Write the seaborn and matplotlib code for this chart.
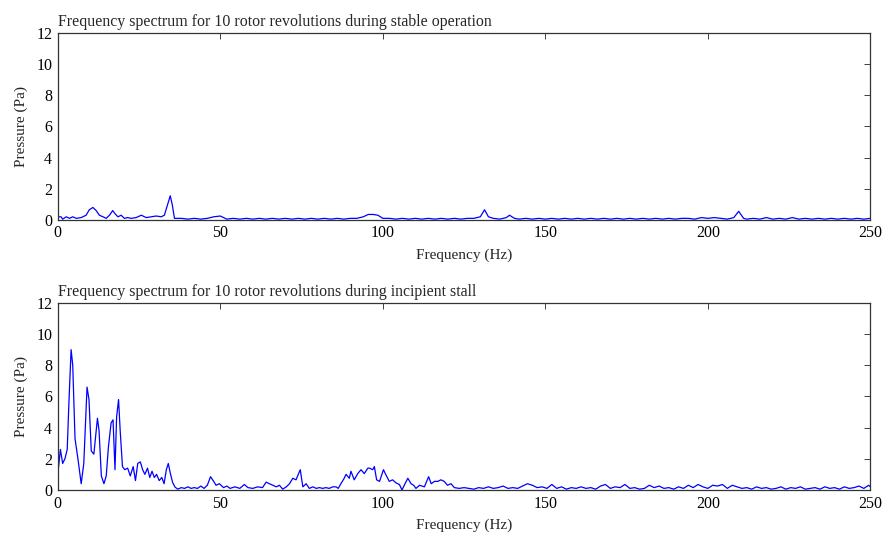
import numpy as np
import pandas as pd
import seaborn as sb
import matplotlib.pyplot as plt

# stable operation spectrum (Hz, Pa)
stable_freq = [0, 1, 1.5, 2.6, 3.6, 4.6, 5.7, 7.2, 8.7, 9.7, 10.8, 11.8, 12.8, 13.9, 14.9,
               15.9, 16.9, 17.6, 18.5, 19.5, 20.5, 21.5, 22.6, 24.1, 25.7, 27.2, 28.7, 30.3,
               31.8, 32.8, 33.8, 34.6, 35.2, 35.9, 37.4,
               38, 40, 42, 44, 46, 48, 50, 52, 54, 56, 58, 60, 62, 64, 66, 68, 70, 72, 74,
               76, 78, 80, 82, 84, 86, 88, 90, 92, 94, 95.5, 97, 98.5, 100, 102, 104, 106,
               108, 110, 112, 114, 116, 118, 120, 122, 124, 126, 128, 130, 131.3, 132.5,
               134, 136, 138, 139, 140.5, 142, 144, 146, 148, 150, 152, 154, 156, 158, 160,
               162, 164, 166, 168, 170, 172, 174, 176, 178, 180, 182, 184, 186, 188, 190,
               192, 194, 196, 198, 200, 202, 204, 206, 208, 209.5, 211, 212, 214, 216, 218,
               220, 222, 224, 226, 228, 230, 232, 234, 236, 238, 240, 242, 244, 246, 248, 250]
stable_p = [0.2, 0.2, 0.05, 0.2, 0.1, 0.2, 0.1, 0.15, 0.3, 0.65, 0.8, 0.6, 0.3, 0.2, 0.1,
            0.3, 0.6, 0.4, 0.2, 0.3, 0.1, 0.15, 0.1, 0.15, 0.3, 0.15, 0.2, 0.25,
            0.2, 0.3, 1.0, 1.55, 1.0, 0.1, 0.1,
            0.1, 0.05, 0.1, 0.05, 0.1, 0.2, 0.25, 0.05, 0.1, 0.05, 0.1, 0.05, 0.1, 0.05, 0.1, 0.05, 0.1, 0.05, 0.1,
            0.05, 0.1, 0.05, 0.1, 0.05, 0.1, 0.05, 0.1, 0.1, 0.2, 0.35, 0.35, 0.3, 0.1, 0.1, 0.05, 0.1,
            0.05, 0.1, 0.05, 0.1, 0.05, 0.1, 0.05, 0.1, 0.05, 0.1, 0.1, 0.2, 0.65, 0.2,
            0.1, 0.05, 0.15, 0.3, 0.1, 0.05, 0.1, 0.05, 0.1, 0.05, 0.1, 0.05, 0.1, 0.05, 0.1,
            0.05, 0.1, 0.05, 0.1, 0.05, 0.1, 0.05, 0.1, 0.05, 0.1, 0.05, 0.1, 0.05, 0.1, 0.05,
            0.1, 0.1, 0.05, 0.15, 0.1, 0.15, 0.1, 0.05, 0.15, 0.55, 0.1, 0.05, 0.1, 0.05, 0.15,
            0.05, 0.1, 0.05, 0.15, 0.05, 0.1, 0.05, 0.1, 0.05, 0.1, 0.05, 0.1, 0.05, 0.1, 0.05, 0.1]

# incipient stall spectrum (Hz, Pa)
stall_freq = [0, 0.8, 1.5, 2.2, 2.9, 3.5, 4.1, 4.6, 5.3, 6.2, 7.2, 8.0, 9.0, 9.6, 10.3, 11.1,
              12.2, 12.7, 13.4, 14.2, 14.9, 15.6, 16.4, 17.0, 17.6, 18.1, 18.7, 19.2, 19.9,
              20.6, 21.5, 22.3, 23.2, 23.9, 24.6, 25.4, 26.1, 26.8, 27.6, 28.3, 29.0, 29.7,
              30.4, 31.2, 32.0, 32.7, 33.4, 34.0, 34.6, 35.3, 36.0, 36.9, 38, 39, 40, 41, 42,
              43, 44, 45, 46, 47, 47.8, 48.7, 49.7, 51, 52, 53, 54.5, 56, 57.4, 58.5, 60, 61.5,
              63, 64.1, 65.1, 66.2, 67.2, 68.2, 69.2, 70.3, 71.3, 72.3, 73.3, 74.6, 75.4, 76.4,
              77.4, 78.5, 79.5, 80.5, 81.5, 82.5, 83.5, 84.6, 85.6, 86.3, 87.1, 88, 88.7, 89.7,
              90.2, 91.2, 92.3, 93.3, 94.3, 95.4, 95.9, 96.9, 97.4, 98.1, 99.0, 100.2, 101, 102,
              103, 104.1, 105.1, 105.9, 106.6, 107.7, 108.7, 109.5, 110.2, 111.3, 112.8, 114.1,
              114.9, 115.9, 116.9, 117.9, 118.9, 119.9, 121, 122,
              123.5, 125, 126.5, 128, 129.5, 131, 132.5, 134, 135.5, 137, 138.5, 140, 141.5,
              143, 144.5, 146, 147.5, 149, 150.5, 152, 153.5, 155, 156.5, 158, 159.5, 161,
              162.5, 164, 165.5, 167, 168.5, 170, 171.5, 173, 174.5, 176, 177.5, 179, 180.5,
              182, 183.5, 185, 186.5, 188, 189.5, 191, 192.5, 194, 195.5, 197, 198.5, 200,
              201.5, 203, 204.5, 206, 207.5, 209, 210.5, 212, 213.5, 215, 216.5, 218, 219.5,
              221, 222.5, 224, 225.5, 227, 228.5, 230, 231.5, 233, 234.5, 236, 237.5, 239,
              240.5, 242, 243.5, 245, 246.5, 248, 249.5, 250]
stall_p = [1.0, 2.6, 1.7, 2.0, 2.6, 6.0, 9.0, 8.0, 3.3, 2.0, 0.4, 1.7, 6.6, 5.8, 2.5, 2.3,
           4.6, 3.8, 0.9, 0.4, 0.9, 2.8, 4.3, 4.5, 1.3, 4.7, 5.8, 3.8, 1.5,
           1.3, 1.4, 0.9, 1.5, 0.6, 1.7, 1.8, 1.3, 1.0, 1.4, 0.8, 1.2, 0.8,
           1.0, 0.6, 0.8, 0.4, 1.3, 1.7, 1.1, 0.5, 0.2, 0.05, 0.15, 0.1, 0.2, 0.1, 0.15,
           0.1, 0.25, 0.1, 0.3, 0.85, 0.6, 0.3, 0.4, 0.15, 0.25, 0.1, 0.2, 0.1, 0.35, 0.15, 0.1, 0.2,
           0.15, 0.5, 0.4, 0.3, 0.2, 0.3, 0.05, 0.2, 0.4, 0.75, 0.65, 1.3, 0.2, 0.4,
           0.1, 0.2, 0.1, 0.15, 0.1, 0.15, 0.1, 0.2, 0.2, 0.1, 0.4, 0.7, 1.0, 0.75,
           1.2, 0.65, 1.05, 1.3, 1.05, 1.4, 1.4, 1.3, 1.5, 0.65, 0.55, 1.3, 0.95, 0.55,
           0.65, 0.45, 0.35, 0.0, 0.3, 0.75, 0.4, 0.3, 0.1, 0.3, 0.2, 0.85,
           0.4, 0.55, 0.55, 0.65, 0.55, 0.3, 0.4, 0.15,
           0.1, 0.15, 0.1, 0.05, 0.15, 0.1, 0.2, 0.1, 0.15, 0.25, 0.1, 0.15, 0.1,
           0.25, 0.4, 0.3, 0.15, 0.2, 0.1, 0.35, 0.1, 0.2, 0.05, 0.15, 0.1, 0.2,
           0.1, 0.15, 0.05, 0.25, 0.35, 0.1, 0.2, 0.15, 0.35, 0.1, 0.15, 0.05, 0.1,
           0.3, 0.15, 0.25, 0.1, 0.15, 0.05, 0.2, 0.1, 0.3, 0.15, 0.35, 0.2, 0.1,
           0.3, 0.25, 0.35, 0.1, 0.3, 0.2, 0.1, 0.15, 0.05, 0.2, 0.1, 0.15, 0.05,
           0.1, 0.2, 0.05, 0.15, 0.1, 0.2, 0.05, 0.1, 0.15, 0.05, 0.2, 0.1, 0.15,
           0.05, 0.2, 0.1, 0.15, 0.25, 0.1, 0.3, 0.2]

titles = ['Frequency spectrum for 10 rotor revolutions during stable operation',
          'Frequency spectrum for 10 rotor revolutions during incipient stall']

sb.set_style('white')
plt.rcParams['font.family'] = ['Liberation Serif', 'DejaVu Serif']

fig = plt.figure(figsize=(8.89, 5.39), dpi=100)
ax1 = fig.add_axes([0.065, 0.592, 0.914, 0.347])
ax2 = fig.add_axes([0.065, 0.091, 0.914, 0.347])

for ax, f, p, t in [(ax1, stable_freq, stable_p, titles[0]), (ax2, stall_freq, stall_p, titles[1])]:
    df = pd.DataFrame({'f': f, 'p': p})
    sb.lineplot(data=df, x='f', y='p', ax=ax, color='#0000ff', linewidth=0.9,
                estimator=None, sort=False)
    ax.set_xlim(0, 250)
    ax.set_ylim(0, 12)
    ax.set_xticks(range(0, 251, 50))
    ax.set_yticks(range(0, 13, 2))
    ax.tick_params(direction='in', top=True, right=True, length=4, width=0.6,
                   labelsize=11.5, colors='#222222', labelcolor='black', pad=4)
    for s in ax.spines.values():
        s.set_color('#333333')
        s.set_linewidth(0.9)
    ax.set_xlabel('Frequency (Hz)', fontsize=11, labelpad=5)
    ax.set_ylabel('Pressure (Pa)', fontsize=11, labelpad=6)
    ax.set_title(t, loc='left', fontsize=11.4, pad=5)

fig.savefig('out.png', dpi=100)
